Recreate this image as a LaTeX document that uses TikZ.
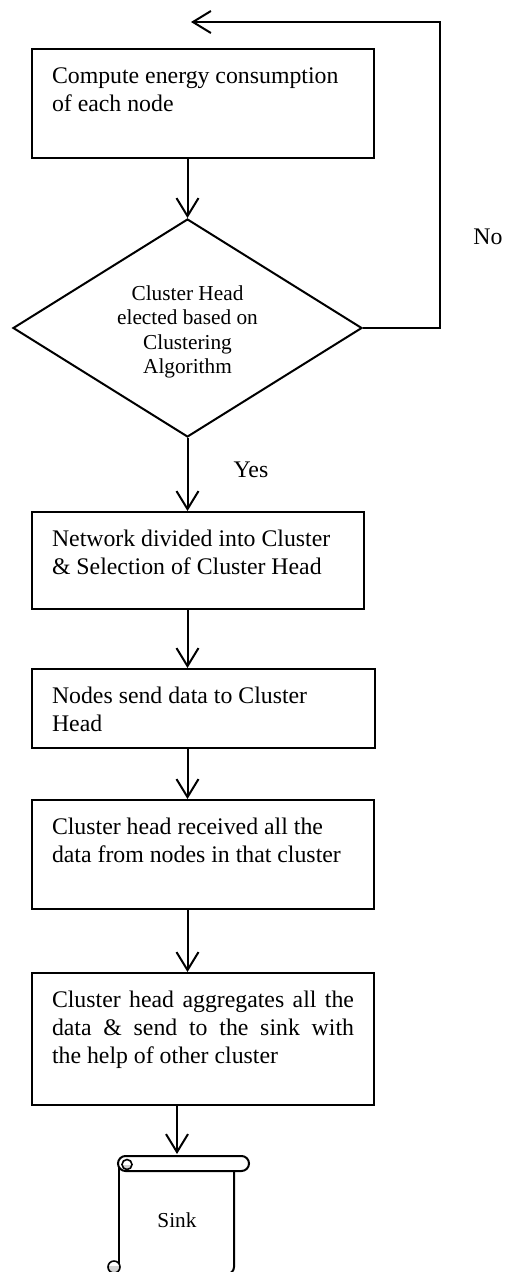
\documentclass[tikz,border=0pt]{standalone}
\usepackage{fontspec}
\setmainfont{Liberation Serif}
\usetikzlibrary{arrows.meta,shapes.geometric}
\newcommand{\boxfnt}{\fontsize{23.8pt}{28.3pt}\selectfont}
\newcommand{\diafnt}{\fontsize{21.3pt}{24.5pt}\selectfont}
\newcommand{\flowtext}[3]{\parbox[t][#1][t]{#2}{\rule{0pt}{34pt}#3}}
\begin{document}
\begin{tikzpicture}[x=1pt,y=-1pt,line width=2pt,
  stepbox/.style={draw,rectangle,anchor=north west,inner xsep=20pt,inner ysep=0pt,font=\boxfnt},
  decision/.style={draw,diamond,shape aspect=1.6,inner sep=0pt,align=center,font=\diafnt},
  arr/.style={-{Straight Barb[length=18pt,width=22pt]}},
  lbl/.style={inner sep=0pt,font=\boxfnt},
  curl/.style={draw,fill=gray!35,line width=1.6pt}]
\useasboundingbox (0,0) rectangle (512,1272);
\clip (0,0) rectangle (512,1272);

% process boxes
\node[stepbox] (b1) at (31,48) {\flowtext{109pt}{302pt}{\raggedright Compute energy consumption\\of each node}};
\node[decision,minimum width=349pt,minimum height=218pt] (dia) at (187.5,328)
  {\rule{0pt}{23pt}Cluster Head\\elected based on\\Clustering\\Algorithm};
\node[stepbox] (b2) at (31,511) {\flowtext{97pt}{292pt}{\raggedright Network divided into Cluster\\\& Selection of Cluster Head}};
\node[stepbox] (b3) at (31,668) {\flowtext{79pt}{303pt}{\raggedright Nodes send data to Cluster\\Head}};
\node[stepbox] (b4) at (31,799) {\flowtext{109pt}{302pt}{\raggedright Cluster head received all the\\data from nodes in that cluster}};
\node[stepbox] (b5) at (31,972) {\flowtext{132pt}{302pt}{Cluster head aggregates all the\linebreak data \& send to the sink with\linebreak the help of other cluster}};

% labels
\node[lbl] (no) at (488,237) {No};
\node[lbl] (yes) at (251,470) {Yes};

% sink scroll
\draw (119,1164) -- (119,1264);
\draw[rounded corners=7pt] (234,1171) -- (234,1274) -- (130,1274);
\draw[fill=white] (118,1156) [rounded corners=7.5pt] rectangle (249,1171);
\begin{scope}
  \clip (118,1165) rectangle (140,1175);
  \fill[gray!35] (127,1164.5) circle (5pt);
\end{scope}
\draw[line width=1.6pt] (127,1164.5) circle (5pt);
\begin{scope}
  \clip (100,1266) rectangle (119,1280);
  \fill[gray!35] (114,1267) circle (6pt);
\end{scope}
\draw[line width=1.6pt] (114,1267) circle (6pt);
\node[inner sep=0pt,font=\diafnt] (sink) at (177,1220) {Sink};
\coordinate (sinktop) at (177,1154);

% connectors
\coordinate (fbtop) at (440,22);
\coordinate (fbend) at (191,22);
\draw[arr] (b1.south -| dia.north) -- (dia.north);
\draw[arr] (dia.east) -| (fbtop) -- (fbend);
\draw[arr] (dia.south) -- (dia.south |- b2.north);
\draw[arr] (b2.south -| dia.south) -- (b3.north -| dia.south);
\draw[arr] (b3.south -| dia.south) -- (b4.north -| dia.south);
\draw[arr] (b4.south -| dia.south) -- (b5.north -| dia.south);
\draw[arr] (b5.south -| sinktop) -- (sinktop);
\end{tikzpicture}
\end{document}
